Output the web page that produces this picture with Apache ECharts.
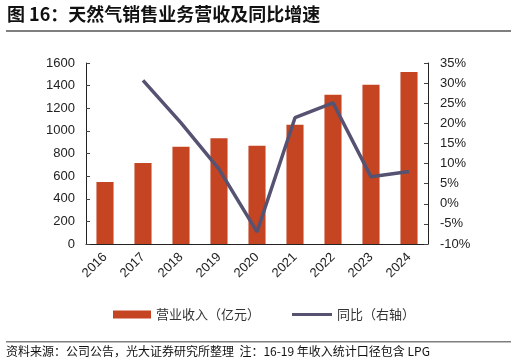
<!DOCTYPE html>
<html><head><meta charset="utf-8">
<script src="https://cdn.jsdelivr.net/npm/echarts@6/dist/echarts.min.js"></script>
<style>html,body{margin:0;padding:0;background:#fff}#c{width:516px;height:363px}</style>
</head><body><div id="c"></div>
<script>
const categories = ['2016','2017','2018','2019','2020','2021','2022','2023','2024'];
const revenue = [548, 716, 860, 934, 869, 1055, 1320, 1408, 1521];
const yoy = [null, 30.7, 20.1, 8.6, -7.0, 21.4, 25.1, 6.7, 8.0];
const leftTicks = {min: 0, max: 1600, interval: 200};
const rightTicks = {min: -10, max: 35, interval: 5};
const titleText = '图 16：天然气销售业务营收及同比增速';
const footText = '资料来源：公司公告，光大证券研究所整理  注：16-19 年收入统计口径包含 LPG';
const seriesNames = ['营业收入（亿元）', '同比（右轴）'];

const chart = echarts.init(document.getElementById('c'));
const font = '"Liberation Sans", Arial, sans-serif';
const cjk = '"Noto Sans CJK SC", sans-serif';
const lab = {fontSize: 13, color: '#222', fontFamily: font};
chart.setOption({
  animation: false,
  textStyle: {fontFamily: font},
  grid: {left: 86, right: 88, top: 63, bottom: 119},
  graphic: [
    {type: 'text', left: 7, top: 5, style: {text: titleText, font: 'bold 18px "Noto Sans CJK SC", sans-serif', fill: '#111'}},
    {type: 'rect', shape: {x: 6, y: 30, width: 505, height: 2}, style: {fill: '#7f7f7f'}},
    {type: 'rect', shape: {x: 6, y: 341, width: 505, height: 1.5}, style: {fill: '#7f7f7f'}},
    {type: 'text', left: 6, top: 345, style: {text: footText, font: '12px "Noto Sans CJK SC", sans-serif', fill: '#111'}}
  ],
  legend: [
    {left: 108, top: 303, itemWidth: 38, itemHeight: 8, itemGap: 4,
     textStyle: {fontSize: 13, color: '#333', fontFamily: cjk},
     data: [{name: seriesNames[0], icon: 'rect'}]},
    {left: 287, top: 303, itemWidth: 40, itemHeight: 3, itemGap: 4,
     textStyle: {fontSize: 13, color: '#333', fontFamily: cjk},
     data: [{name: seriesNames[1], icon: 'rect'}]}
  ],
  xAxis: {
    type: 'category', data: categories, boundaryGap: true,
    axisLine: {lineStyle: {color: '#222', width: 1}},
    axisTick: {inside: true, length: 4, lineStyle: {color: '#444'}},
    axisLabel: Object.assign({rotate: 45, margin: 11}, lab)
  },
  yAxis: [
    {type: 'value', min: leftTicks.min, max: leftTicks.max, interval: leftTicks.interval,
     splitLine: {show: false},
     axisLine: {show: true, lineStyle: {color: '#222'}},
     axisTick: {show: true, inside: true, length: 4, lineStyle: {color: '#444'}},
     axisLabel: Object.assign({margin: 11, formatter: v => String(v)}, lab)},
    {type: 'value', min: rightTicks.min, max: rightTicks.max, interval: rightTicks.interval,
     splitLine: {show: false},
     axisLine: {show: true, lineStyle: {color: '#222'}},
     axisTick: {show: true, inside: true, length: 4, lineStyle: {color: '#444'}},
     axisLabel: Object.assign({margin: 12, formatter: v => v + '%'}, lab)}
  ],
  series: [
    {name: seriesNames[0], type: 'bar', data: revenue, barWidth: '45%', itemStyle: {color: '#C54422'}},
    {name: seriesNames[1], type: 'line', yAxisIndex: 1, data: yoy, showSymbol: false, symbol: 'none',
     lineStyle: {color: '#565372', width: 3.5}, itemStyle: {color: '#565372'}}
  ]
});
</script></body></html>
